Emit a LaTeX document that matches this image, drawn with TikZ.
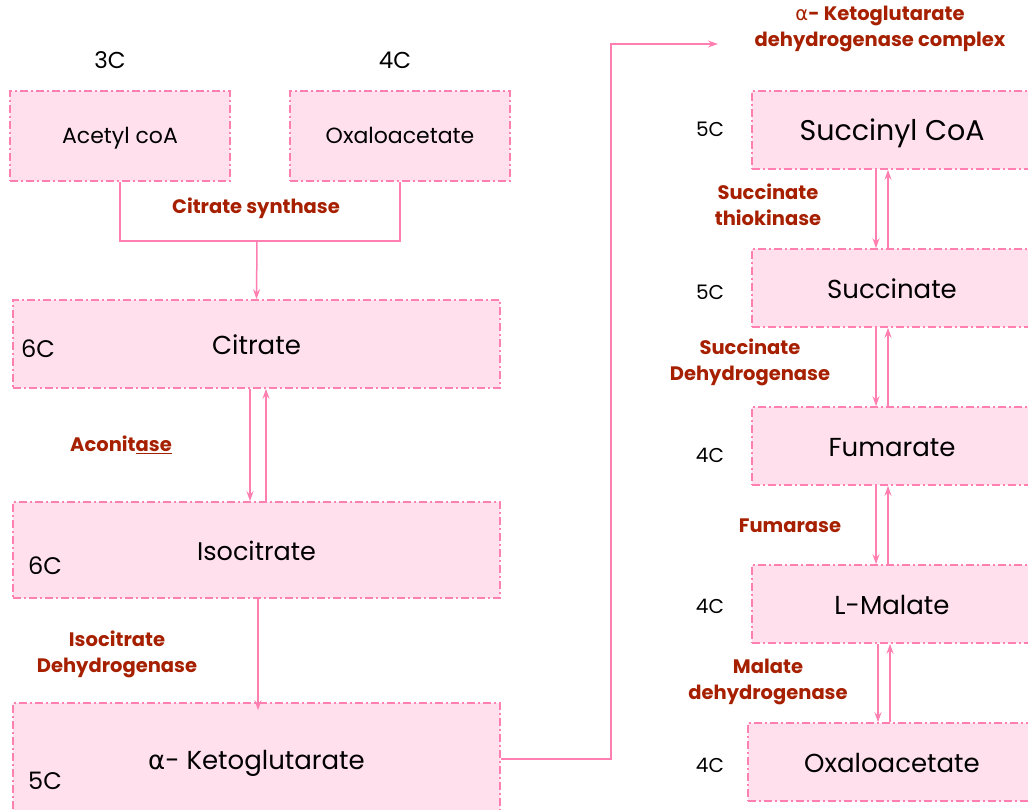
\documentclass[tikz,border=0pt]{standalone}
\usepackage{fontspec}
\setmainfont{Poppins}
\newfontfamily\greekfont{DejaVu Sans}
\usetikzlibrary{arrows.meta}
\definecolor{pinkline}{RGB}{255,128,176}
\definecolor{pinkfill}{RGB}{255,224,236}
\definecolor{enzred}{RGB}{166,32,0}
\tikzset{
  box/.style={draw=pinkline, fill=pinkfill, line width=1.6pt,
    dash pattern=on 8pt off 3pt on 2pt off 3pt, inner sep=0pt,
    text height=21pt, text depth=0pt},
  enz/.style={text=enzred, font=\bfseries\fontsize{19.5}{26}\selectfont, align=center, yshift=-2pt},
  carb/.style={font=\fontsize{23}{26}\selectfont},
  link/.style={draw=pinkline, line width=1.5pt},
  >={Stealth[length=10pt,width=7pt]}
}
\begin{document}
\begin{tikzpicture}[x=1pt,y=-1pt]
\useasboundingbox (0,0) rectangle (1028,810);
\node[box, minimum width=220pt, minimum height=90pt, text height=16pt, font=\fontsize{22}{26}\selectfont] (acetyl) at (120,136) {Acetyl coA};
\node[box, minimum width=220pt, minimum height=90pt, text height=16pt, font=\fontsize{22}{26}\selectfont] (oxalo) at (400,136) {Oxaloacetate};
\node[carb] (c3) at (110,60) {3C};
\node[carb] (c4) at (395,60) {4C};
\node[box, minimum width=487pt, minimum height=88pt, text height=20pt, font=\fontsize{26}{30}\selectfont] (citrate) at (256.5,344) {Citrate};
\node[carb, font=\fontsize{24}{28}\selectfont] (c6a) at (38,349) {6C};
\node[box, minimum width=487pt, minimum height=96pt, text height=20pt, font=\fontsize{25.5}{30}\selectfont] (isocit) at (256.5,550) {Isocitrate};
\node[carb, font=\fontsize{24}{28}\selectfont] (c6b) at (45,566) {6C};
\node[box, minimum width=487pt, minimum height=112pt, text height=20pt, font=\fontsize{26}{30}\selectfont] (akg) at (256.5,759) {{\greekfont α}- Ketoglutarate};
\node[carb, font=\fontsize{24}{28}\selectfont] (c5a) at (45,781) {5C};
\coordinate (join) at (257,241);
\coordinate (bend) at (611,44);
\coordinate (kgdh) at (718,44);
\draw[link] (acetyl.south) |- (join) -| (oxalo.south);
\draw[link,->] (join) -- (citrate.north);
\node[enz] (cs) at (256,206) {Citrate synthase};
\draw[link,->] ([xshift=-6.5pt]citrate.south) -- ([xshift=-6.5pt]isocit.north);
\draw[link,->] ([xshift=9.5pt]isocit.north) -- ([xshift=9.5pt]citrate.south);
\node[enz] (acon) at (121,443) {Aconit\underline{ase}};
\draw[link,->] ([xshift=1.5pt]isocit.south) -- ([xshift=1.5pt,yshift=-8pt]akg.north);
\node[enz] (icdh) at (117,652) {Isocitrate\\Dehydrogenase};
\draw[link,->] (akg.east) -| (bend) -- (kgdh);
\node[enz] (kgdhlab) at (880,27) {{\greekfont\mdseries α}- Ketoglutarate\\dehydrogenase complex};
\node[box, minimum width=280pt, minimum height=78pt, text height=22pt, font=\fontsize{28.5}{32}\selectfont] (sucoa) at (892,130) {Succinyl CoA};
\node[carb, font=\fontsize{20}{24}\selectfont] (c5b) at (710,129) {5C};
\node[box, minimum width=280pt, minimum height=78pt, font=\fontsize{26}{30}\selectfont] (succ) at (892,288) {Succinate};
\node[carb, font=\fontsize{20}{24}\selectfont] (c5c) at (710,292) {5C};
\node[box, minimum width=280pt, minimum height=78pt, font=\fontsize{26}{30}\selectfont] (fum) at (892,446) {Fumarate};
\node[carb, font=\fontsize{20}{24}\selectfont] (c4b) at (710,455) {4C};
\node[box, minimum width=280pt, minimum height=78pt, font=\fontsize{26}{30}\selectfont] (mal) at (892,604) {L-Malate};
\node[carb, font=\fontsize{20}{24}\selectfont] (c4c) at (710,606) {4C};
\node[box, minimum width=288pt, minimum height=78pt, font=\fontsize{26}{30}\selectfont] (oaa) at (892,762) {Oxaloacetate};
\node[carb, font=\fontsize{20}{24}\selectfont] (c4d) at (710,765) {4C};
\draw[link,->] ([xshift=-16pt]sucoa.south) -- ([xshift=-16pt]succ.north);
\draw[link,->] ([xshift=-4pt]succ.north) -- ([xshift=-4pt]sucoa.south);
\node[enz] (stk) at (768,203) {Succinate\\thiokinase};
\draw[link,->] ([xshift=-16pt]succ.south) -- ([xshift=-16pt]fum.north);
\draw[link,->] ([xshift=-4pt]fum.north) -- ([xshift=-4pt]succ.south);
\node[enz] (sdh) at (750,360) {Succinate\\Dehydrogenase};
\draw[link,->] ([xshift=-16pt]fum.south) -- ([xshift=-16pt]mal.north);
\draw[link,->] ([xshift=-4pt]mal.north) -- ([xshift=-4pt]fum.south);
\node[enz] (fumase) at (790,524) {Fumarase};
\draw[link,->] ([xshift=-14pt]mal.south) -- ([xshift=-14pt]oaa.north);
\draw[link,->] ([xshift=-2pt]oaa.north) -- ([xshift=-2pt]mal.south);
\node[enz] (mdh) at (768,680) {Malate\\dehydrogenase};
\end{tikzpicture}
\end{document}
